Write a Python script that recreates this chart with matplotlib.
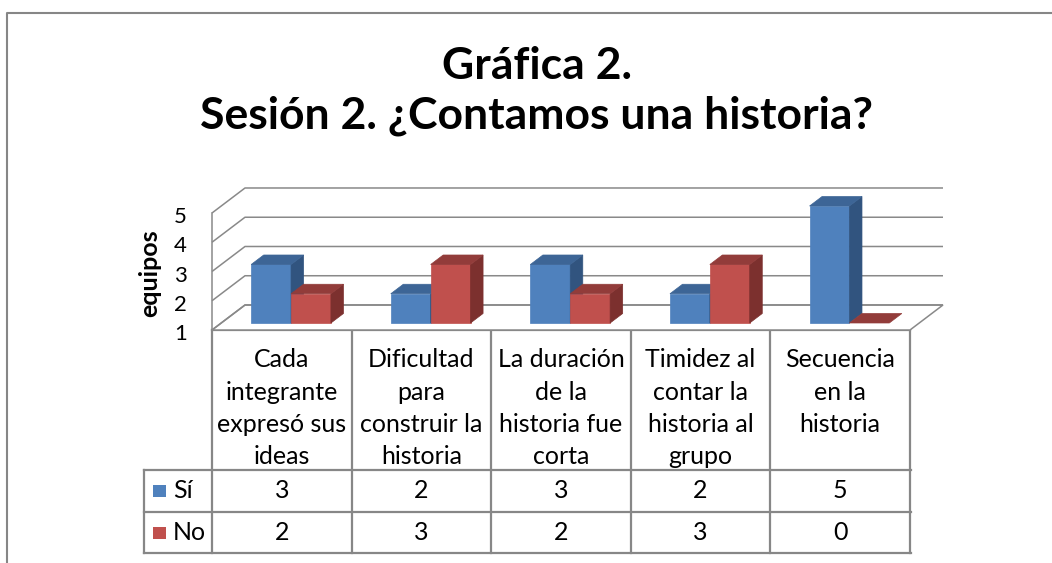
import matplotlib
matplotlib.use("Agg")
import matplotlib.pyplot as plt
from matplotlib.patches import Polygon, Rectangle
from matplotlib.transforms import blended_transform_factory, offset_copy

plt.rcParams['font.family'] = ['Lato', 'DejaVu Sans']

# data
categories = [
    ["Cada", "integrante", "expresó sus", "ideas"],
    ["Dificultad", "para", "construir la", "historia"],
    ["La duración", "de la", "historia fue", "corta"],
    ["Timidez al", "contar la", "historia al", "grupo"],
    ["Secuencia", "en la", "historia"],
]
series_names = ["Sí", "No"]
si = [3, 2, 3, 2, 5]
no = [2, 3, 2, 3, 0]
yticks = [1, 2, 3, 4, 5]

colors = {
    "Sí": ("#4F81BD", "#3D6596", "#31547F"),   # front, top, side
    "No": ("#C0504D", "#923C3A", "#7C302E"),
}
grid_c = "#898989"

W, H = 1052, 563
fig = plt.figure(figsize=(W / 100, H / 100), dpi=100)
overlay = fig.add_axes([0, 0, 1, 1])
overlay.set_xlim(0, W)
overlay.set_ylim(H, 0)
overlay.axis('off')

# plot area (front plane), x in categories, y in values
ax = fig.add_axes([212 / W, 1 - 330 / H, 698 / W, 117 / H])
n = len(categories)
ax.set_xlim(-0.5, n - 0.5)
ax.set_ylim(1, 5)
ax.axis('off')

DX, DY = 0.2364, 0.855      # depth of the 3d box in data units
f1, f2 = 0.28, 0.66         # bar depth position (fraction of box depth)
bw = 1 / 3.5                # gap width 150%
x0, x1 = -0.5, n - 0.5
ymin, ymax = 1, 5

# floor + walls
ax.add_patch(Polygon([(x0, ymin), (x1, ymin), (x1 + DX, ymin + DY), (x0 + DX, ymin + DY)],
                     closed=True, facecolor='white', edgecolor=grid_c, lw=1.1, clip_on=False))
ax.plot([x0, x0], [ymin, ymax], color=grid_c, lw=1.1, clip_on=False)
for v in yticks:
    ax.plot([x0, x0 + DX, x1 + DX], [v, v + DY, v + DY], color=grid_c, lw=1.1,
            clip_on=False, solid_capstyle='butt')

# bars
def bar3d(xl, val, front, top, side):
    xr = xl + bw
    yb = ymin + f1 * DY
    yt = val + f1 * DY
    ddx, ddy = (f2 - f1) * DX, (f2 - f1) * DY
    if val > ymin:
        ax.add_patch(Polygon([(xl, yb), (xr, yb), (xr, yt), (xl, yt)], closed=True,
                             facecolor=front, edgecolor=front, lw=0.5, clip_on=False, zorder=3))
        ax.add_patch(Polygon([(xr, yb), (xr + ddx, yb + ddy), (xr + ddx, yt + ddy), (xr, yt)],
                             closed=True, facecolor=side, edgecolor=side, lw=0.5,
                             clip_on=False, zorder=3))
    top_y = max(val, ymin) + f1 * DY
    ax.add_patch(Polygon([(xl, top_y), (xr, top_y), (xr + ddx, top_y + ddy), (xl + ddx, top_y + ddy)],
                         closed=True, facecolor=top, edgecolor=top, lw=0.5,
                         clip_on=False, zorder=3))

for i in range(n):
    cx = i + f1 * DX
    bar3d(cx - bw, max(si[i], 0), *colors["Sí"])
    bar3d(cx, max(no[i], 0), *colors["No"])

# y tick labels
tick_tr = offset_copy(ax.transData, fig=fig, x=-25, y=-4, units='dots')
for v in yticks:
    ax.text(x0, v, str(v), transform=tick_tr, ha='right', va='center', fontsize=16)

overlay.text(150, 273, "equipos", rotation=90, ha='center', va='center',
             fontsize=18, fontweight='bold')

# title
overlay.text(537, 79, "Gráfica 2.", ha='center', va='baseline', fontsize=32, fontweight='bold')
overlay.text(537, 128, "Sesión 2. ¿Contamos una historia?", ha='center', va='baseline',
             fontsize=32, fontweight='bold')

# data table
tab = blended_transform_factory(ax.transData, overlay.transData)
t_top, t_hdr, t_mid, t_bot = 330, 470, 512, 553
lc = "#878787"
lw_t = 1.6
for k in range(n + 1):
    overlay.plot([x0 + k, x0 + k], [t_top, t_bot], color=lc, lw=lw_t, transform=tab)
overlay.plot([144, 144], [t_hdr, t_bot], color=lc, lw=lw_t)
overlay.plot([x0, x1], [t_top, t_top], color=lc, lw=lw_t, transform=tab)
for yy in (t_hdr, t_mid, t_bot):
    overlay.plot([144, 911], [yy, yy], color=lc, lw=lw_t)

for i, lines in enumerate(categories):
    for j, s in enumerate(lines):
        overlay.text(i, 367 + 32.5 * j, s, transform=tab, ha='center', va='baseline', fontsize=18)

rows = [(si, "Sí", (t_hdr + t_mid) / 2), (no, "No", (t_mid + t_bot) / 2)]
for vals, name, yc in rows:
    overlay.add_patch(Rectangle((153, yc - 6), 13, 12, facecolor=colors[name][0], edgecolor='none'))
    overlay.text(173, yc, name, ha='left', va='center', fontsize=18)
    for i, v in enumerate(vals):
        overlay.text(i, yc, str(v), transform=tab, ha='center', va='center', fontsize=18)

# chart border
overlay.plot([7, 7, W], [H, 13, 13], color="#868686", lw=1.5)

fig.savefig("out.png", dpi=100)
